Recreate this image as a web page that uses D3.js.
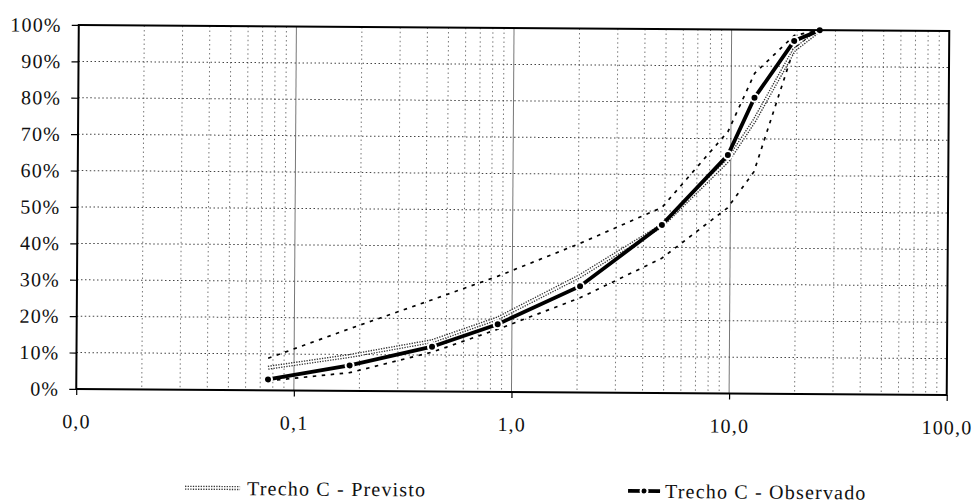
<!DOCTYPE html>
<html>
<head>
<meta charset="utf-8">
<script src="https://cdn.jsdelivr.net/npm/d3@7/dist/d3.min.js"></script>
<style>
  body { margin: 0; background: #fff; }
  text { font-family: "Liberation Serif", "Times New Roman", serif; fill: #111; }
</style>
</head>
<body>
<svg id="grafico" width="972" height="504"></svg>
<script>
// DATOS (abertura de peneira em mm, % passante)
const peneiras   = [0.076, 0.18, 0.43, 0.86, 2.05, 4.85, 9.7, 12.8, 19.4, 25.4];
const observado  = [3.0, 7.0, 12.3, 18.6, 29.2, 46.2, 65.5, 81.3, 97.0, 100];
const previsto   = [6.2, 9.6, 13.8, 20.2, 32.0, 46.0, 64.0, 75.0, 94.5, 100];
const faixaSup   = [8.8, 17.1, 25.2, 31.8, 41.0, 51.0, 72.0, 88.0, 98.5, 100];
const faixaInf   = [2.6, 5.0, 10.8, 17.2, 26.0, 37.0, 51.0, 61.0, 95.0, 100];
const xTicks     = [0.01, 0.1, 1, 10, 100];
const yTicks     = [0, 10, 20, 30, 40, 50, 60, 70, 80, 90, 100];
const legendas   = ["Trecho C - Previsto", "Trecho C - Observado"];

const svg = d3.select("#grafico");

// MÁRGENES
const leftM = 77.5, rightM = 948, topM = 28, bottomM = 392;

// el escaneo original está levemente girado
const g = svg.append("g").attr("transform", "rotate(0.4, 512, 210)");

const x = d3.scaleLog().domain([0.01, 100]).range([leftM, rightM]);
const y = d3.scaleLinear().domain([0, 100]).range([bottomM, topM]);

const locale = d3.formatLocale({ decimal: ",", thousands: ".", grouping: [3], currency: ["", ""] });
const fmt = locale.format(".1f");

// ----------------------------------------------------
// GRILLA
// ----------------------------------------------------
const minor = [];
for (let dec = 0.01; dec < 100; dec *= 10) {
  for (let k = 2; k <= 9; k++) minor.push(dec * k);
}

g.selectAll(".minor")
  .data(minor)
  .enter()
  .append("line")
    .attr("x1", d => x(d)).attr("x2", d => x(d))
    .attr("y1", topM).attr("y2", bottomM)
    .attr("stroke", "#777")
    .attr("stroke-width", 1)
    .attr("stroke-dasharray", "1.5,3");

g.selectAll(".major")
  .data([0.1, 1, 10])
  .enter()
  .append("line")
    .attr("x1", d => x(d)).attr("x2", d => x(d))
    .attr("y1", topM).attr("y2", bottomM)
    .attr("stroke", "#777")
    .attr("stroke-width", 1);

g.selectAll(".hgrid")
  .data(yTicks.slice(1, -1))
  .enter()
  .append("line")
    .attr("x1", leftM).attr("x2", rightM)
    .attr("y1", d => y(d)).attr("y2", d => y(d))
    .attr("stroke", "#444")
    .attr("stroke-width", 1)
    .attr("stroke-dasharray", "1.5,2.5");

// ----------------------------------------------------
// SERIES
// ----------------------------------------------------
const line = d3.line().x(d => x(d[0])).y(d => y(d[1]));
const pares = vals => peneiras.map((p, i) => [p, vals[i]]);

// faixa (envolvente)
[faixaSup, faixaInf].forEach(f => {
  g.append("path")
    .attr("d", line(pares(f)))
    .attr("fill", "none")
    .attr("stroke", "#000")
    .attr("stroke-width", 1.7)
    .attr("stroke-dasharray", "3.5,5.5");
});

// previsto: línea punteada doble
g.append("path")
  .attr("d", line(pares(previsto)))
  .attr("fill", "none")
  .attr("stroke", "#333")
  .attr("stroke-width", 4.2)
  .attr("stroke-dasharray", "1.3,1.3");
g.append("path")
  .attr("d", line(pares(previsto)))
  .attr("fill", "none")
  .attr("stroke", "#fff")
  .attr("stroke-width", 1.5);

// observado
g.append("path")
  .attr("d", line(pares(observado)))
  .attr("fill", "none")
  .attr("stroke", "#000")
  .attr("stroke-width", 3.8);

g.selectAll(".obs")
  .data(pares(observado))
  .enter()
  .append("circle")
    .attr("cx", d => x(d[0]))
    .attr("cy", d => y(d[1]))
    .attr("r", 4)
    .attr("fill", "#000")
    .attr("stroke", "#fff")
    .attr("stroke-width", 2);

// ----------------------------------------------------
// MARCO Y EJES
// ----------------------------------------------------
g.append("rect")
  .attr("x", leftM).attr("y", topM)
  .attr("width", rightM - leftM).attr("height", bottomM - topM)
  .attr("fill", "none")
  .attr("stroke", "#000")
  .attr("stroke-width", 2);

const ejeY = g.append("g")
  .attr("transform", `translate(${leftM},0)`)
  .call(d3.axisLeft(y).tickValues(yTicks).tickFormat(d => d + "%").tickSize(7).tickPadding(10));

const ejeX = g.append("g")
  .attr("transform", `translate(0,${bottomM})`)
  .call(d3.axisBottom(x).tickValues(xTicks).tickFormat(d => fmt(d)).tickSize(6).tickPadding(19));

[ejeY, ejeX].forEach(e => {
  e.select(".domain").remove();
  e.selectAll("line").attr("stroke", "#000").attr("stroke-width", 1.2);
  e.selectAll("text")
    .attr("fill", "#111")
    .style("font-family", '"Liberation Serif", serif')
    .style("font-size", "20px")
    .style("letter-spacing", "1.2px");
});

// ----------------------------------------------------
// LEYENDA
// ----------------------------------------------------
const ly = 490;

g.append("line")
  .attr("x1", 187).attr("x2", 242).attr("y1", ly).attr("y2", ly)
  .attr("stroke", "#333").attr("stroke-width", 4.2).attr("stroke-dasharray", "1.3,1.3");
g.append("line")
  .attr("x1", 187).attr("x2", 242).attr("y1", ly).attr("y2", ly)
  .attr("stroke", "#fff").attr("stroke-width", 1.5);

g.append("line")
  .attr("x1", 630).attr("x2", 662).attr("y1", ly).attr("y2", ly)
  .attr("stroke", "#000").attr("stroke-width", 3.8);
g.append("circle")
  .attr("cx", 646).attr("cy", ly).attr("r", 3.5)
  .attr("fill", "#000").attr("stroke", "#fff").attr("stroke-width", 2);

g.selectAll(".leg")
  .data(legendas)
  .enter()
  .append("text")
    .attr("x", (d, i) => i === 0 ? 249 : 667)
    .attr("y", ly + 7)
    .style("font-size", "20px")
    .style("letter-spacing", "1.2px")
    .text(d => d);
</script>
</body>
</html>
